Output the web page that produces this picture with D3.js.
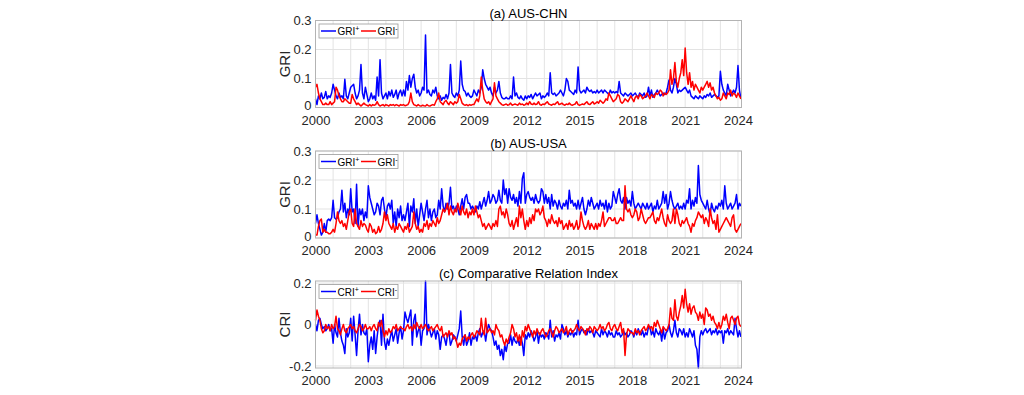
<!DOCTYPE html>
<html>
<head>
<meta charset="utf-8">
<script src="https://cdn.jsdelivr.net/npm/d3@7"></script>
<style>
  body { margin: 0; background: #fff; }
  svg { display: block; font-family: "Liberation Sans", Arial, sans-serif; }
</style>
</head>
<body>
<svg id="chart"></svg>
<script>
// monthly values, Jan 2000 .. Mar 2024 (one row per year)
var aPos = [
  .03,.01,.04,.03,.05,.03,.035,.055,.03,.04,.035,.05,
  .08,.06,.04,.03,.05,.035,.04,.03,.097,.04,.03,.05,
  .07,.075,.08,.05,.03,.04,.06,.148,.05,.03,.07,.045,
  .02,.03,.05,.03,.04,.025,.105,.04,.165,.05,.03,.04,
  .05,.03,.055,.04,.06,.035,.045,.06,.03,.05,.06,.04,
  .06,.04,.09,.06,.11,.07,.1,.115,.07,.05,.06,.04,
  .05,.07,.06,.25,.05,.06,.045,.04,.06,.05,.07,.04,
  .03,.04,.025,.035,.03,.045,.03,.05,.148,.05,.04,.035,
  .05,.04,.06,.16,.08,.06,.055,.04,.05,.04,.035,.04,
  .06,.05,.04,.06,.05,.07,.13,.1,.08,.07,.06,.07,
  .05,.04,.07,.05,.06,.09,.05,.035,.03,.03,.035,.03,
  .03,.04,.03,.105,.04,.05,.035,.03,.04,.03,.025,.04,
  .03,.04,.035,.045,.03,.04,.05,.04,.045,.05,.03,.04,
  .035,.04,.05,.04,.12,.05,.045,.05,.04,.045,.05,.06,
  .05,.04,.06,.1,.09,.06,.055,.05,.045,.06,.05,.14,
  .06,.05,.055,.06,.05,.07,.06,.055,.06,.05,.055,.05,
  .06,.05,.055,.06,.05,.06,.055,.05,.045,.06,.05,.055,
  .05,.055,.05,.09,.05,.045,.04,.05,.045,.04,.045,.05,
  .04,.045,.05,.04,.035,.05,.045,.04,.05,.035,.04,.07,
  .04,.06,.035,.045,.05,.06,.05,.04,.045,.05,.045,.05,
  .07,.095,.06,.05,.07,.1,.08,.05,.06,.055,.06,.065,
  .07,.06,.05,.06,.04,.035,.03,.04,.035,.03,.04,.035,
  .03,.04,.035,.045,.04,.05,.035,.04,.045,.04,.035,.04,
  .125,.08,.06,.05,.04,.08,.06,.04,.05,.06,.05,.07,
  .145,.06,.03
];
var aNeg = [
  .07,.08,.05,.03,.02,.01,.01,.015,.01,.01,.02,.01,
  .015,.02,.07,.06,.04,.03,.02,.02,.03,.025,.02,.015,
  .015,.045,.03,.02,.01,.015,.01,.005,.01,.015,.01,.008,
  .005,.01,.005,.01,.008,.01,.02,.01,.005,.008,.01,.005,
  .01,.008,.005,.01,.008,.01,.006,.01,.008,.005,.01,.008,
  .01,.006,.008,.01,.02,.05,.02,.01,.008,.005,.01,.006,
  .005,.008,.006,.005,.01,.006,.005,.008,.01,.008,.02,.03,
  .05,.02,.015,.01,.02,.025,.015,.01,.02,.015,.01,.02,
  .015,.02,.045,.03,.015,.01,.008,.01,.006,.01,.008,.01,
  .01,.02,.03,.02,.04,.105,.06,.03,.02,.015,.02,.01,
  .02,.03,.085,.04,.03,.02,.015,.01,.008,.01,.012,.008,
  .01,.015,.008,.01,.012,.01,.008,.015,.01,.012,.008,.01,
  .015,.01,.02,.012,.01,.015,.01,.012,.02,.01,.008,.012,
  .01,.015,.02,.012,.01,.008,.012,.01,.015,.02,.01,.012,
  .015,.01,.008,.012,.01,.015,.01,.008,.01,.012,.02,.01,
  .008,.01,.012,.01,.015,.02,.012,.01,.015,.02,.012,.015,
  .02,.015,.025,.02,.015,.02,.03,.025,.05,.04,.03,.02,
  .025,.03,.045,.04,.02,.015,.02,.03,.025,.02,.03,.04,
  .03,.02,.035,.04,.03,.045,.04,.03,.035,.04,.05,.04,
  .03,.045,.04,.035,.05,.045,.05,.06,.055,.04,.05,.045,
  .05,.06,.13,.08,.1,.155,.09,.07,.1,.12,.165,.11,
  .205,.12,.08,.12,.07,.09,.06,.08,.07,.06,.05,.07,
  .06,.07,.08,.09,.07,.085,.06,.07,.05,.04,.03,.035,
  .025,.03,.05,.04,.03,.05,.045,.06,.04,.05,.045,.035,
  .05,.04,.03
];
var bPos = [
  .05,.08,.05,.03,.01,.02,.05,.02,.06,.065,.06,.07,
  .13,.07,.065,.07,.09,.1,.165,.09,.12,.07,.1,.08,
  .17,.09,.1,.05,.185,.04,.1,.08,.1,.06,.09,.07,
  .18,.14,.12,.1,.08,.09,.12,.11,.08,.13,.14,.1,
  .07,.11,.12,.1,.13,.05,.09,.04,.1,.07,.11,.06,
  .08,.06,.09,.12,.04,.11,.09,.135,.05,.1,.04,.08,
  .12,.09,.06,.1,.13,.07,.1,.06,.09,.1,.07,.08,
  .13,.1,.17,.11,.09,.12,.1,.12,.175,.1,.11,.09,
  .11,.1,.08,.11,.135,.1,.14,.15,.12,.12,.1,.11,
  .1,.09,.11,.1,.125,.1,.12,.14,.11,.13,.16,.12,
  .13,.15,.14,.12,.13,.165,.13,.12,.2,.15,.17,.12,
  .17,.14,.13,.15,.12,.14,.11,.16,.12,.205,.225,.12,
  .15,.16,.14,.13,.14,.12,.15,.13,.12,.13,.17,.16,
  .12,.15,.12,.14,.1,.15,.11,.13,.12,.1,.13,.11,
  .1,.12,.11,.13,.1,.165,.12,.13,.11,.12,.1,.13,
  .1,.12,.14,.1,.08,.1,.13,.11,.14,.12,.1,.11,
  .12,.1,.13,.11,.12,.1,.13,.09,.12,.1,.11,.16,
  .14,.12,.15,.17,.13,.12,.14,.1,.14,.12,.13,.11,
  .16,.12,.1,.11,.12,.11,.1,.12,.11,.1,.12,.1,
  .11,.12,.09,.11,.1,.13,.1,.11,.12,.16,.12,.15,
  .1,.12,.16,.13,.11,.1,.11,.12,.1,.11,.1,.12,
  .1,.13,.12,.17,.1,.13,.11,.14,.12,.25,.15,.13,
  .12,.11,.1,.13,.1,.08,.12,.1,.09,.11,.1,.12,
  .11,.13,.1,.18,.12,.1,.11,.12,.1,.11,.12,.15,
  .1,.12,.11
];
var bNeg = [
  .01,.01,.04,.06,.065,.02,.03,.02,.02,.015,.015,.02,
  .03,.02,.05,.09,.06,.05,.06,.04,.05,.03,.06,.09,
  .1,.05,.04,.1,.05,.04,.03,.06,.04,.05,.045,.03,
  .02,.05,.04,.02,.03,.015,.02,.04,.02,.03,.05,.09,
  .06,.08,.05,.04,.03,.05,.02,.04,.03,.05,.04,.03,
  .02,.04,.03,.05,.02,.03,.04,.09,.05,.03,.04,.02,
  .03,.02,.05,.04,.06,.03,.05,.04,.06,.05,.04,.07,
  .05,.06,.08,.1,.09,.1,.12,.08,.11,.09,.08,.1,
  .09,.12,.1,.08,.11,.09,.08,.1,.07,.09,.08,.1,
  .08,.11,.09,.07,.08,.06,.04,.05,.03,.04,.05,.04,
  .03,.05,.04,.06,.04,.1,.11,.08,.09,.07,.1,.08,
  .05,.04,.06,.03,.05,.07,.04,.11,.07,.1,.06,.03,
  .06,.04,.07,.05,.08,.06,.1,.09,.1,.08,.09,.11,
  .07,.06,.04,.065,.05,.08,.06,.05,.06,.04,.07,.05,
  .06,.03,.04,.05,.03,.06,.04,.05,.03,.04,.06,.03,
  .04,.09,.06,.04,.03,.04,.06,.03,.05,.04,.03,.05,
  .03,.05,.04,.06,.09,.04,.05,.06,.07,.07,.06,.06,
  .07,.05,.05,.06,.07,.06,.06,.18,.1,.09,.1,.08,
  .07,.08,.1,.09,.06,.07,.1,.08,.06,.05,.06,.07,
  .07,.08,.09,.06,.05,.07,.06,.08,.1,.07,.05,.04,
  .08,.06,.05,.06,.1,.05,.1,.08,.05,.04,.06,.05,
  .06,.07,.05,.04,.02,.05,.04,.06,.07,.09,.08,.07,
  .08,.05,.07,.06,.04,.1,.07,.05,.06,.03,.08,.02,
  .03,.04,.05,.06,.07,.06,.05,.04,.07,.08,.03,.02,
  .03,.04,.05
];
var cPos = [
  0,-.03,.02,.03,0,-.02,-.01,-.03,-.02,0,-.03,-.02,
  -.09,0,-.04,-.06,.03,-.04,-.08,-.1,-.14,-.02,-.06,-.04,
  .03,-.08,.04,-.05,-.15,-.03,.05,-.05,0,-.04,-.05,-.02,
  -.18,-.1,-.06,-.12,-.03,-.14,-.06,0,.02,-.1,.05,-.08,
  -.12,-.07,-.1,-.06,-.03,-.08,-.05,-.02,-.09,-.04,-.01,-.07,
  -.03,.06,.03,.01,.04,.07,-.1,.02,.05,-.06,-.03,-.01,
  -.1,-.03,-.02,.21,-.05,0,-.03,-.06,-.04,-.02,-.07,-.03,
  -.05,-.12,-.06,-.05,-.07,-.1,-.05,-.04,-.1,-.08,-.05,-.06,
  -.08,-.05,-.02,.065,-.06,-.1,-.05,-.1,-.08,-.04,-.1,-.06,
  -.07,-.05,-.08,-.04,-.02,-.06,-.04,-.03,-.08,-.03,0,-.02,
  -.03,-.06,-.1,-.08,-.12,-.1,-.15,-.12,-.17,-.1,-.13,-.09,
  -.09,-.05,-.1,-.06,-.08,-.09,-.07,-.1,-.06,-.09,-.15,-.05,
  -.07,-.04,-.06,-.03,-.05,-.08,-.06,-.03,-.09,-.04,-.06,-.05,
  -.07,-.04,-.05,-.07,.02,-.06,-.03,-.08,-.05,-.06,-.04,-.07,
  0,-.02,-.05,-.03,-.06,-.04,-.05,-.03,-.06,-.04,-.05,.02,
  -.05,-.03,-.02,-.04,-.03,-.05,-.02,-.04,-.03,-.04,-.06,-.03,
  -.04,-.05,-.06,-.02,-.05,-.03,-.04,-.06,-.03,-.05,-.04,-.06,
  -.06,-.03,-.05,-.04,-.06,-.05,-.03,-.05,-.04,-.06,-.05,-.03,
  -.04,-.06,-.03,-.05,-.02,-.04,-.05,-.03,-.06,-.04,-.05,-.01,
  -.01,-.05,-.03,-.06,-.02,-.04,-.05,-.03,-.08,-.02,-.07,-.04,
  -.03,0,-.04,-.06,-.03,.02,-.04,-.06,-.02,-.03,-.05,-.02,
  -.06,-.04,-.06,-.02,-.04,-.06,-.03,-.1,-.12,-.21,-.06,-.03,
  -.05,-.03,-.02,-.04,-.03,-.02,-.05,-.03,-.04,-.02,-.05,-.03,
  -.04,-.03,-.09,-.03,-.04,-.02,-.05,-.03,-.04,-.05,.03,-.02,
  -.06,-.03,-.06
];
var cNeg = [
  .02,.07,.04,.02,-.02,-.04,-.03,0,-.02,-.01,-.03,0,
  -.02,-.01,.04,-.02,-.03,-.05,-.02,0,-.03,-.04,-.02,-.01,
  0,-.02,-.01,-.03,-.04,-.02,0,-.01,-.03,-.02,0,-.02,
  -.02,-.01,-.03,-.01,0,-.02,-.03,.01,-.01,.02,-.03,-.06,
  -.03,-.05,-.02,-.04,-.03,-.01,-.02,0,-.03,-.02,-.01,-.02,
  -.02,-.03,-.01,0,-.02,-.01,-.03,0,-.02,.01,-.01,-.02,
  0,-.02,-.01,0,-.02,-.03,-.02,-.01,-.03,-.02,-.01,0,
  -.02,-.03,-.01,-.06,-.05,-.04,-.06,-.03,-.05,-.04,-.07,-.06,
  -.08,-.11,-.09,-.1,-.07,-.06,-.05,-.08,-.06,-.07,-.05,-.04,
  -.06,-.05,-.03,-.04,-.05,.03,-.03,-.05,.03,-.04,-.03,-.02,
  -.04,-.03,-.05,0,-.02,-.03,-.06,-.05,-.08,-.1,-.07,-.09,
  -.06,-.04,0,-.02,-.06,-.04,-.08,-.05,-.1,-.03,-.06,-.01,
  -.03,0,-.02,-.04,-.06,-.03,-.05,-.02,-.04,-.05,-.03,-.02,
  -.04,-.06,-.05,-.03,-.02,-.04,-.06,-.03,-.01,-.02,-.04,-.03,
  -.02,-.04,-.03,-.01,-.05,-.03,-.02,-.04,-.03,-.02,0,-.02,
  -.03,-.01,-.02,-.03,-.05,-.02,-.03,-.01,-.02,-.04,-.01,-.02,
  -.03,-.02,0,-.02,-.01,-.03,-.02,0,.01,-.02,-.03,-.01,
  0,-.02,-.03,-.01,.01,-.04,-.02,-.15,-.05,-.02,-.03,-.04,
  -.04,-.05,-.02,-.04,-.03,-.05,-.03,-.02,-.01,-.03,-.02,0,
  -.02,-.01,-.03,.01,-.01,.02,0,-.02,-.04,-.01,-.02,-.03,
  -.02,0,.08,.03,.02,.12,.04,.02,.06,.09,.14,.08,
  .17,.1,.06,.1,.05,.08,.09,.06,.05,.02,.06,.03,
  .05,0,.08,.07,.04,.05,.02,.04,.01,0,-.02,.01,
  -.02,0,.04,.02,.05,.01,-.02,.03,.04,.02,0,.03,
  .04,0,-.01
];

var years = d3.range(aPos.length).map(i => 2000 + i / 12);
var xTicks = [2000, 2003, 2006, 2009, 2012, 2015, 2018, 2021, 2024];
var gridYears = d3.range(2000, 2025);
var griTicks = [0, 0.1, 0.2, 0.3];
var griTickLabels = ["0", "0.1", "0.2", "0.3"];
var criTicks = [-0.2, 0, 0.2];
var criTickLabels = ["-0.2", "0", "0.2"];

var dim = { width: 1024, height: 395 };
var left = 315.5, right = 741.5;

var panels = [
  { title: "(a) AUS-CHN", ylab: "GRI", name: "GRI", top: 20.5, bottom: 107.5,
    domain: [0, 0.3], ticks: griTicks, labels: griTickLabels, pos: aPos, neg: aNeg },
  { title: "(b) AUS-USA", ylab: "GRI", name: "GRI", top: 151, bottom: 238,
    domain: [0, 0.3], ticks: griTicks, labels: griTickLabels, pos: bPos, neg: bNeg },
  { title: "(c) Comparative Relation Index", ylab: "CRI", name: "CRI", top: 281, bottom: 368,
    domain: [-0.21, 0.21], ticks: criTicks, labels: criTickLabels, pos: cPos, neg: cNeg }
];

var svg = d3.select("#chart")
    .attr("width", dim.width)
    .attr("height", dim.height);

svg.append("rect").attr("width", dim.width).attr("height", dim.height).attr("fill", "#fff");

var xScale = d3.scaleLinear()
    .domain([2000, 2024.2])
    .range([left, right]);

panels.forEach(function(p) {
    var yScale = d3.scaleLinear()
        .domain(p.domain)
        .range([p.bottom, p.top]);

    var g = svg.append("g");

    // grid
    g.selectAll(".vgrid").data(gridYears).enter().append("line")
        .attr("x1", d => xScale(d)).attr("x2", d => xScale(d))
        .attr("y1", p.top).attr("y2", p.bottom)
        .attr("stroke", "#e3e3e3").attr("stroke-width", 1);
    g.selectAll(".hgrid").data(p.ticks).enter().append("line")
        .attr("x1", left).attr("x2", right)
        .attr("y1", d => yScale(d)).attr("y2", d => yScale(d))
        .attr("stroke", "#e3e3e3").attr("stroke-width", 1);

    // axes
    var yAxis = d3.axisLeft(yScale)
        .tickValues(p.ticks)
        .tickSize(0).tickPadding(4)
        .tickFormat((d, i) => p.labels[i]);
    g.append("g").attr("transform", `translate(${left},0)`).call(yAxis)
        .call(a => a.select(".domain").remove())
        .selectAll("text").attr("font-size", 13).attr("fill", "#262626")
        .attr("font-family", "Liberation Sans, Arial, sans-serif")
        // lowest label sits a touch higher so it clears the year labels
        .attr("dy", d => d === p.domain[0] ? "0.18em" : "0.32em");

    var xAxis = d3.axisBottom(xScale)
        .tickValues(xTicks)
        .tickSize(0).tickPadding(8)
        .tickFormat(d3.format("d"));
    g.append("g").attr("transform", `translate(0,${p.bottom})`).call(xAxis)
        .call(a => a.select(".domain").remove())
        .selectAll("text").attr("font-size", 13).attr("fill", "#262626")
        .attr("font-family", "Liberation Sans, Arial, sans-serif");

    // lines
    var line = d3.line()
        .x((d, i) => xScale(years[i]))
        .y(d => yScale(d));
    g.append("path").datum(p.pos)
        .attr("d", line).attr("fill", "none")
        .attr("stroke", "#0000ff").attr("stroke-width", 1.5).attr("stroke-linejoin", "round");
    g.append("path").datum(p.neg)
        .attr("d", line).attr("fill", "none")
        .attr("stroke", "#ff0000").attr("stroke-width", 1.5).attr("stroke-linejoin", "round");

    // box
    g.append("rect")
        .attr("x", left).attr("y", p.top)
        .attr("width", right - left).attr("height", p.bottom - p.top)
        .attr("fill", "none").attr("stroke", "#b3b3b3").attr("stroke-width", 1);

    // title and y label
    g.append("text")
        .attr("x", (left + right) / 2).attr("y", p.top - 3)
        .attr("text-anchor", "middle").attr("font-size", 13).attr("fill", "#000")
        .text(p.title);
    g.append("text")
        .attr("transform", `translate(289.5,${(p.top + p.bottom) / 2}) rotate(-90)`)
        .attr("text-anchor", "middle").attr("font-size", 15).attr("fill", "#262626")
        .text(p.ylab);

    // legend
    var lg = g.append("g").attr("transform", `translate(319,${p.top + 3.5})`);
    lg.append("rect").attr("width", 79).attr("height", 14)
        .attr("fill", "#fff").attr("stroke", "#9a9a9a").attr("stroke-width", 0.8);
    var items = [
        { color: "#0000ff", sup: "+", x: 2 },
        { color: "#ff0000", sup: "-", x: 42 }
    ];
    items.forEach(function(it) {
        lg.append("line")
            .attr("x1", it.x).attr("x2", it.x + 15)
            .attr("y1", 7).attr("y2", 7)
            .attr("stroke", it.color).attr("stroke-width", 1.5);
        var t = lg.append("text")
            .attr("x", it.x + 16.5).attr("y", 11)
            .attr("font-size", 10).attr("fill", "#000");
        t.append("tspan").text(p.name);
        t.append("tspan").attr("font-size", 7).attr("dy", -4).text(it.sup);
    });
});
</script>
</body>
</html>
